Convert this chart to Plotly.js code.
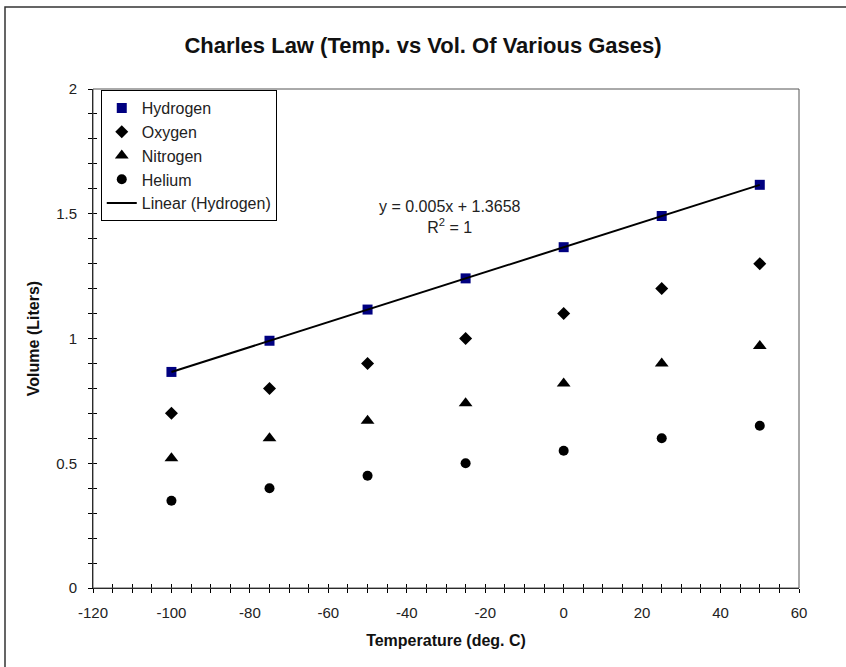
<!DOCTYPE html>
<html>
<head>
<meta charset="utf-8">
<script src="https://cdn.plot.ly/plotly-3.0.1.min.js"></script>
<style>
html,body{margin:0;padding:0;background:#fff;}
#chart{width:846px;height:667px;}
</style>
</head>
<body>
<div id="chart"></div>
<script>
// Data
const temperature = [-100, -75, -50, -25, 0, 25, 50];
const hydrogen = [0.866, 0.991, 1.116, 1.241, 1.366, 1.491, 1.616];
const oxygen   = [0.70, 0.80, 0.90, 1.00, 1.10, 1.20, 1.30];
const nitrogen = [0.52, 0.60, 0.67, 0.74, 0.82, 0.90, 0.97];
const helium   = [0.35, 0.40, 0.45, 0.50, 0.55, 0.60, 0.65];
const trendX = [-100, 50];
const trendY = [0.8658, 1.6158];
const seriesNames = ["Hydrogen", "Oxygen", "Nitrogen", "Helium", "Linear (Hydrogen)"];
const xTickVals = [-120, -100, -80, -60, -40, -20, 0, 20, 40, 60];
const xTickText = ["-120", "-100", "-80", "-60", "-40", "-20", "0", "20", "40", "60"];
const yTickVals = [0, 0.5, 1, 1.5, 2];
const yTickText = ["0", "0.5", "1", "1.5", "2"];
const chartTitle = "Charles Law (Temp. vs Vol. Of Various Gases)";
const xTitle = "Temperature (deg. C)";
const yTitle = "Volume (Liters)";
const equationText = "y = 0.005x + 1.3658<br>R<sup>2</sup> = 1";

const FONT = "Liberation Sans, Arial, sans-serif";

const traces = [
  {x: temperature, y: hydrogen, name: seriesNames[0], mode: "markers", type: "scatter",
   marker: {symbol: "square", size: 10, color: "#000080"}},
  {x: temperature, y: oxygen, name: seriesNames[1], mode: "markers", type: "scatter",
   marker: {symbol: "diamond", size: 10, color: "#000000"}},
  {x: temperature, y: nitrogen, name: seriesNames[2], mode: "markers", type: "scatter",
   marker: {symbol: "triangle-up", size: 12, color: "#000000"}},
  {x: temperature, y: helium, name: seriesNames[3], mode: "markers", type: "scatter",
   marker: {symbol: "circle", size: 10, color: "#000000"}},
  {x: trendX, y: trendY, name: seriesNames[4], mode: "lines", type: "scatter",
   line: {color: "#000000", width: 2}},
  // invisible helper on overlay axes for the inside half of the crossing ticks
  {x: trendX, y: trendY, xaxis: "x2", yaxis: "y2", mode: "markers", showlegend: false,
   hoverinfo: "skip", marker: {opacity: 0}}
];

const axisCommon = {
  showgrid: false, zeroline: false, showline: true, linecolor: "#000", linewidth: 1,
  tickcolor: "#000", tickwidth: 1
};

const layout = {
  width: 846, height: 667,
  margin: {l: 93, r: 47, t: 89, b: 79},
  paper_bgcolor: "#fff", plot_bgcolor: "#fff",
  font: {family: FONT, size: 14, color: "#222"},
  title: {text: chartTitle, font: {family: FONT, size: 22, color: "#111", weight: "bold"},
          x: 0.5, xanchor: "center", y: 1 - 45/667, yanchor: "middle"},
  showlegend: true,
  legend: {x: 0.011, y: 0.998, xanchor: "left", yanchor: "top",
           bordercolor: "#000", borderwidth: 1, bgcolor: "#fff",
           font: {family: FONT, size: 16, color: "#222"}, traceorder: "normal"},
  xaxis: Object.assign({}, axisCommon, {
    range: [-120, 60], tickmode: "array", tickvals: xTickVals, ticktext: xTickText,
    ticks: "outside", ticklen: 4,
    minor: {dtick: 5, tick0: -120, ticks: "outside", ticklen: 4, tickcolor: "#000"},
    tickfont: {family: FONT, size: 15, color: "#222"},
    ticklabelstandoff: 7,
    title: {text: xTitle, font: {family: FONT, size: 16, color: "#111", weight: "bold"}, standoff: 14}
  }),
  yaxis: Object.assign({}, axisCommon, {
    range: [0, 2], tickmode: "array", tickvals: yTickVals, ticktext: yTickText,
    ticks: "outside", ticklen: 4,
    minor: {dtick: 0.1, tick0: 0, ticks: "outside", ticklen: 4, tickcolor: "#000"},
    tickfont: {family: FONT, size: 15, color: "#222"},
    ticklabelstandoff: 8,
    title: {text: yTitle, font: {family: FONT, size: 16, color: "#111", weight: "bold"}, standoff: 12}
  }),
  xaxis2: {overlaying: "x", matches: "x", range: [-120, 60], tickmode: "array", tickvals: xTickVals,
    ticks: "inside", ticklen: 4, tickcolor: "#000", showticklabels: false, showgrid: false,
    zeroline: false, showline: false,
    minor: {dtick: 5, tick0: -120, ticks: "inside", ticklen: 4, tickcolor: "#000"}},
  yaxis2: {overlaying: "y", range: [0, 2], tickmode: "array", tickvals: yTickVals, ticks: "inside", ticklen: 4,
    tickcolor: "#000", showticklabels: false, showgrid: false, zeroline: false, showline: false,
    minor: {dtick: 0.1, tick0: 0, ticks: "inside", ticklen: 4, tickcolor: "#000"}},
  shapes: [
    {type: "rect", xref: "paper", yref: "paper", x0: 0, x1: 1, y0: 0, y1: 1,
     line: {color: "#555", width: 1}, layer: "above"},
    {type: "rect", xref: "paper", yref: "paper",
     x0: (5 - 93) / 706, x1: (850 - 93) / 706, y0: (588 - 672) / 499, y1: (588 - 7) / 499,
     line: {color: "#333", width: 1.5}}
  ],
  annotations: [
    {text: equationText, xref: "x", yref: "y", x: -29, y: 1.487, showarrow: false,
     align: "center", font: {family: FONT, size: 16, color: "#222"}}
  ]
};

Plotly.newPlot("chart", traces, layout, {displayModeBar: false, staticPlot: true});
</script>
</body>
</html>
